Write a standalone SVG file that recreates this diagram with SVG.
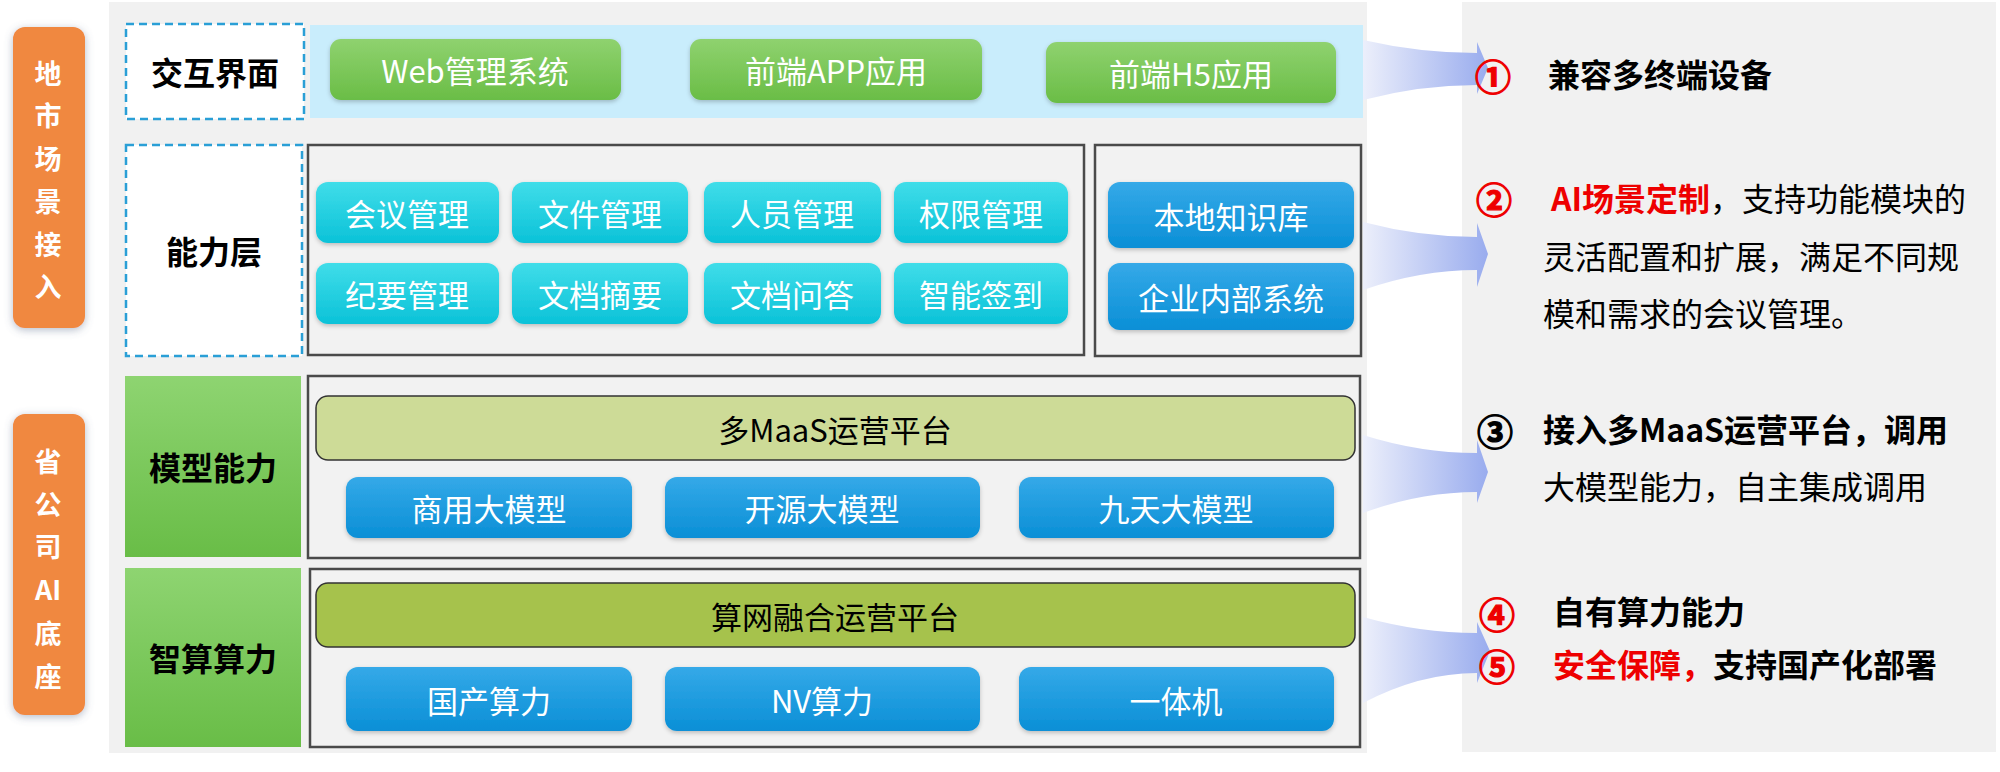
<svg xmlns="http://www.w3.org/2000/svg" width="2000" height="772" viewBox="0 0 2000 772">
<defs>
<linearGradient id="gGreen" x1="0" y1="0" x2="0" y2="1"><stop offset="0" stop-color="#8fd26f"/><stop offset="1" stop-color="#6abd46"/></linearGradient>
<linearGradient id="gLabel" x1="0" y1="0" x2="0" y2="1"><stop offset="0" stop-color="#8ed471"/><stop offset="1" stop-color="#69bd47"/></linearGradient>
<linearGradient id="gCyan" x1="0" y1="0" x2="0" y2="1"><stop offset="0" stop-color="#40dde9"/><stop offset="1" stop-color="#0bc2d8"/></linearGradient>
<linearGradient id="gBlue" x1="0" y1="0" x2="0" y2="1"><stop offset="0" stop-color="#35a9e8"/><stop offset="1" stop-color="#0a8fd6"/></linearGradient>
<linearGradient id="gArrow" x1="0" y1="0" x2="1" y2="0"><stop offset="0" stop-color="#eceffb"/><stop offset="1" stop-color="#99acee"/></linearGradient>
<filter id="sh" x="-10%" y="-10%" width="120%" height="130%"><feDropShadow dx="0" dy="2" stdDeviation="2" flood-color="#000" flood-opacity="0.22"/></filter>
<filter id="shO" x="-30%" y="-10%" width="160%" height="120%"><feDropShadow dx="0" dy="2" stdDeviation="4" flood-color="#5a6a8a" flood-opacity="0.45"/></filter>
<style>
text{font-family:"Noto Sans CJK SC","Noto Sans",sans-serif}
.panel{fill:#f1f1f1}
.frame{fill:#f2f2f2;stroke:#4a4a4a;stroke-width:2.5}
.dash{fill:#ffffff;stroke:#2a9fd6;stroke-width:2.5;stroke-dasharray:8 5}
.orange{fill:#f0883f}
.bg{fill:url(#gGreen)}
.bc{fill:url(#gCyan)}
.bb{fill:url(#gBlue)}
.lab{fill:url(#gLabel)}
.tw{fill:#ffffff;font-size:31px;text-anchor:middle;dominant-baseline:central}
.tb{fill:#000;font-size:32px;font-weight:bold;text-anchor:middle;dominant-baseline:central}
.tk{fill:#000;font-size:31px;text-anchor:middle;dominant-baseline:central}
.to{fill:#fff;font-size:27px;font-weight:bold;text-anchor:middle;dominant-baseline:central}
.rt{font-size:32px;dominant-baseline:central}
.num{font-size:36px;font-weight:bold;text-anchor:middle;dominant-baseline:central;stroke:#000;stroke-width:1.2}
.red{fill:#ee0000}
.num.red{stroke:#ee0000}
.arrow{fill:url(#gArrow)}
</style>
</defs>

<rect class="panel" x="109" y="2" width="1258" height="751"/>
<rect class="panel" x="1462" y="2" width="534" height="750"/>

<g id="side-top">
<rect class="orange" x="13" y="27" width="72" height="301" rx="12" filter="url(#shO)"/>
<text class="to" x="48" y="72">地</text>
<text class="to" x="48" y="114">市</text>
<text class="to" x="48" y="157">场</text>
<text class="to" x="48" y="200">景</text>
<text class="to" x="48" y="243">接</text>
<text class="to" x="48" y="285">入</text>
</g>
<g id="side-bottom">
<rect class="orange" x="13" y="414" width="72" height="301" rx="12" filter="url(#shO)"/>
<text class="to" x="48" y="460">省</text>
<text class="to" x="48" y="503">公</text>
<text class="to" x="48" y="545">司</text>
<text class="to" x="48" y="588">AI</text>
<text class="to" x="48" y="632">底</text>
<text class="to" x="48" y="675">座</text>
</g>

<g id="layer-ui">
<rect class="dash" x="126" y="24" width="178" height="95"/>
<text class="tb" x="215" y="71">交互界面</text>
<rect x="310" y="25" width="1053" height="93" fill="#c9edfc"/>
<g id="web"><rect class="bg" x="330" y="39" width="291" height="61" rx="11" filter="url(#sh)"/><text class="tw" x="475" y="69" font-size="30">Web管理系统</text></g>
<g id="app"><rect class="bg" x="690" y="39" width="292" height="61" rx="11" filter="url(#sh)"/><text class="tw" x="836" y="69" font-size="30">前端APP应用</text></g>
<g id="h5"><rect class="bg" x="1046" y="42" width="290" height="61" rx="11" filter="url(#sh)"/><text class="tw" x="1191" y="72" font-size="30">前端H5应用</text></g>
</g>

<g id="layer-capability">
<rect class="dash" x="126" y="145" width="176" height="211"/>
<text class="tb" x="214" y="250">能力层</text>
<rect class="frame" x="308" y="145" width="776" height="210"/>
<g id="c1"><rect class="bc" x="316" y="182" width="183" height="61" rx="12" filter="url(#sh)"/><text class="tw" x="407" y="212">会议管理</text></g>
<g id="c2"><rect class="bc" x="512" y="182" width="176" height="61" rx="12" filter="url(#sh)"/><text class="tw" x="600" y="212">文件管理</text></g>
<g id="c3"><rect class="bc" x="704" y="182" width="177" height="61" rx="12" filter="url(#sh)"/><text class="tw" x="792" y="212">人员管理</text></g>
<g id="c4"><rect class="bc" x="894" y="182" width="174" height="61" rx="12" filter="url(#sh)"/><text class="tw" x="981" y="212">权限管理</text></g>
<g id="c5"><rect class="bc" x="316" y="263" width="183" height="61" rx="12" filter="url(#sh)"/><text class="tw" x="407" y="293">纪要管理</text></g>
<g id="c6"><rect class="bc" x="512" y="263" width="176" height="61" rx="12" filter="url(#sh)"/><text class="tw" x="600" y="293">文档摘要</text></g>
<g id="c7"><rect class="bc" x="704" y="263" width="177" height="61" rx="12" filter="url(#sh)"/><text class="tw" x="792" y="293">文档问答</text></g>
<g id="c8"><rect class="bc" x="894" y="263" width="174" height="61" rx="12" filter="url(#sh)"/><text class="tw" x="981" y="293">智能签到</text></g>
<rect class="frame" x="1095" y="145" width="266" height="211"/>
<g id="kb"><rect class="bb" x="1108" y="182" width="246" height="66" rx="12" filter="url(#sh)"/><text class="tw" x="1231" y="215">本地知识库</text></g>
<g id="ent"><rect class="bb" x="1108" y="263" width="246" height="67" rx="12" filter="url(#sh)"/><text class="tw" x="1231" y="296">企业内部系统</text></g>
</g>

<g id="layer-model">
<rect class="lab" x="125" y="376" width="176" height="181"/>
<text class="tb" x="213" y="466">模型能力</text>
<rect class="frame" x="308" y="376" width="1052" height="182"/>
<g id="maas"><rect x="316" y="396" width="1039" height="64" rx="12" fill="#cddb97" stroke="#333" stroke-width="1.5"/><text class="tk" x="835" y="428">多MaaS运营平台</text></g>
<g id="m1"><rect class="bb" x="346" y="477" width="286" height="61" rx="12" filter="url(#sh)"/><text class="tw" x="489" y="507">商用大模型</text></g>
<g id="m2"><rect class="bb" x="665" y="477" width="315" height="61" rx="12" filter="url(#sh)"/><text class="tw" x="822" y="507">开源大模型</text></g>
<g id="m3"><rect class="bb" x="1019" y="477" width="315" height="61" rx="12" filter="url(#sh)"/><text class="tw" x="1176" y="507">九天大模型</text></g>
</g>

<g id="layer-compute">
<rect class="lab" x="125" y="568" width="176" height="179"/>
<text class="tb" x="213" y="657">智算算力</text>
<rect class="frame" x="310" y="569" width="1050" height="178"/>
<g id="suanwang"><rect x="316" y="583" width="1039" height="64" rx="12" fill="#a6c24c" stroke="#333" stroke-width="1.5"/><text class="tk" x="835" y="615">算网融合运营平台</text></g>
<g id="p1"><rect class="bb" x="346" y="667" width="286" height="64" rx="12" filter="url(#sh)"/><text class="tw" x="489" y="699">国产算力</text></g>
<g id="p2"><rect class="bb" x="665" y="667" width="315" height="64" rx="12" filter="url(#sh)"/><text class="tw" x="822" y="699">NV算力</text></g>
<g id="p3"><rect class="bb" x="1019" y="667" width="315" height="64" rx="12" filter="url(#sh)"/><text class="tw" x="1176" y="699">一体机</text></g>
</g>

<g id="connectors">
<path class="arrow" d="M1363,40 Q1420,53 1477,53 L1477,42 L1488,68 L1477,94 L1477,85 Q1420,85 1363,100 Z"/>
<path class="arrow" d="M1363,222 Q1420,237 1477,237 L1477,223 L1488,254 L1477,287 L1477,270 Q1420,270 1363,290 Z"/>
<path class="arrow" d="M1363,435 Q1420,453 1477,453 L1477,440 L1488,472 L1477,503 L1477,492 Q1420,492 1363,513 Z"/>
<path class="arrow" d="M1363,617 Q1420,633 1477,633 L1477,622 L1490,651 L1477,683 L1477,673 Q1420,673 1363,703 Z"/>
</g>

<g id="notes">
<text class="num red" x="1493" y="75">①</text>
<text class="rt" x="1548" y="73" font-weight="bold">兼容多终端设备</text>
<text class="num red" x="1494" y="198">②</text>
<text class="rt" x="1551" y="197"><tspan class="red" font-weight="bold">AI场景定制</tspan><tspan>，支持功能模块的</tspan></text>
<text class="rt" x="1543" y="255">灵活配置和扩展，满足不同规</text>
<text class="rt" x="1543" y="312">模和需求的会议管理。</text>
<text class="num" x="1495" y="430">③</text>
<text class="rt" x="1543" y="428" font-weight="bold">接入多MaaS运营平台，调用</text>
<text class="rt" x="1543" y="485">大模型能力，自主集成调用</text>
<text class="num red" x="1497" y="613">④</text>
<text class="rt" x="1553" y="610" font-weight="bold">自有算力能力</text>
<text class="num red" x="1497" y="665">⑤</text>
<text class="rt" x="1553" y="663" font-weight="bold"><tspan class="red">安全保障，</tspan><tspan>支持国产化部署</tspan></text>
</g>
</svg>
